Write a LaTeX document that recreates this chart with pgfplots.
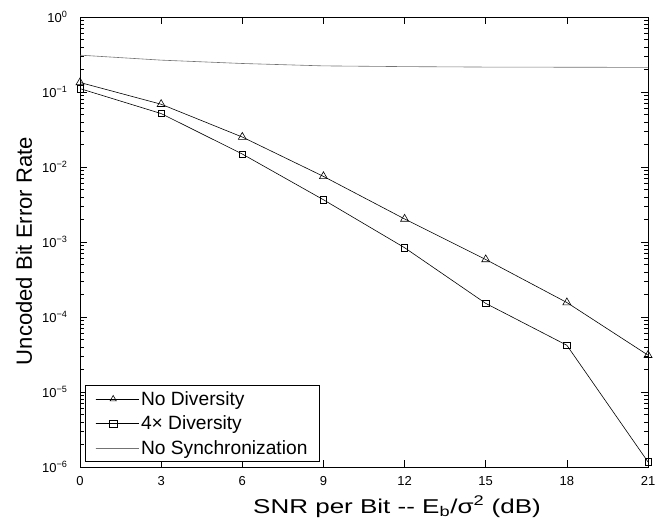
\documentclass[border=0pt]{standalone}
\usepackage{graphicx}
\usepackage{pgfplots}
\pgfplotsset{compat=1.18}
\usepackage{fontspec}
\setmainfont{Liberation Sans}
\begin{document}
\begin{tikzpicture}
\begin{axis}[
  scale only axis,
  width=568pt, height=450pt,
  xmin=0, xmax=21,
  ymode=log, ymin=1e-6, ymax=1,
  xtick={0,3,6,9,12,15,18,21},
  ytick={1e-6,1e-5,1e-4,1e-3,1e-2,1e-1,1},
  yticklabels={10\textsuperscript{−6},10\textsuperscript{−5},10\textsuperscript{−4},10\textsuperscript{−3},10\textsuperscript{−2},10\textsuperscript{−1},10\textsuperscript{0}},
  /pgf/number format/assume math mode=true,
  tick label style={font=\fontsize{13}{15}\selectfont},
  tick align=inside,
  major tick length=7pt,
  minor tick length=4pt,
  every tick/.style={black, line width=0.6pt},
  axis line style={line width=0.8pt},
  xtick pos=both, ytick pos=both,
  xticklabel style={yshift=-6pt},
  yticklabel style={xshift=-9pt},
  xlabel={\scalebox{1.3}[1.0]{\fontsize{20}{24}\selectfont SNR per Bit -{}- E\textsubscript{b}/σ\textsuperscript{2} (dB)}},
  ylabel={\resizebox{228pt}{!}{\fontsize{17}{20}\selectfont Uncoded Bit Error Rate}},
  xlabel style={at={(axis description cs:0,0)}, anchor=base, xshift=317pt, yshift=-46pt},
  ylabel style={at={(axis description cs:0,0)}, anchor=base, xshift=216pt, yshift=48pt},
  legend style={at={(0,0)}, anchor=south west, xshift=5pt, yshift=5pt, font=\fontsize{19.2}{23}\selectfont, draw=black, line width=0.8pt, row sep=5pt, inner xsep=10pt, inner ysep=4pt},
  legend cell align=left,
  legend image code/.code={\path (0pt,0pt) -- (43pt,0pt); \draw[#1] (0pt,0pt) -- (35pt,0pt); \path[#1, mark size=3.6pt] plot coordinates {(17.5pt,0pt)};},
]
\addplot[black, line width=0.6pt, mark=triangle, mark size=4.6pt, mark options={solid, line width=0.6pt}] coordinates {
(0,0.134) (3,0.0687) (6,0.0251) (9,0.0075) (12,0.00203) (15,5.85e-4) (18,1.56e-4) (21,3.1e-5)};
\addlegendentry{No Diversity}
\addplot[black, line width=0.6pt, mark=square, mark size=3.2pt, mark options={solid, line width=0.6pt}] coordinates {
(0,0.111) (3,0.0516) (6,0.0149) (9,0.00366) (12,8.4e-4) (15,1.52e-4) (18,4.2e-5) (21,1.17e-6)};
\addlegendentry{4× Diversity}
\addplot[black!55, line width=0.6pt, no marks] coordinates {
(0,0.31) (3,0.266) (6,0.24) (9,0.223) (12,0.218) (15,0.215) (18,0.214) (21,0.213)};
\addlegendentry{No Synchronization}
\end{axis}
\pgfresetboundingbox
\path (-80pt,-64pt) rectangle (575pt,467pt);
\end{tikzpicture}
\end{document}
